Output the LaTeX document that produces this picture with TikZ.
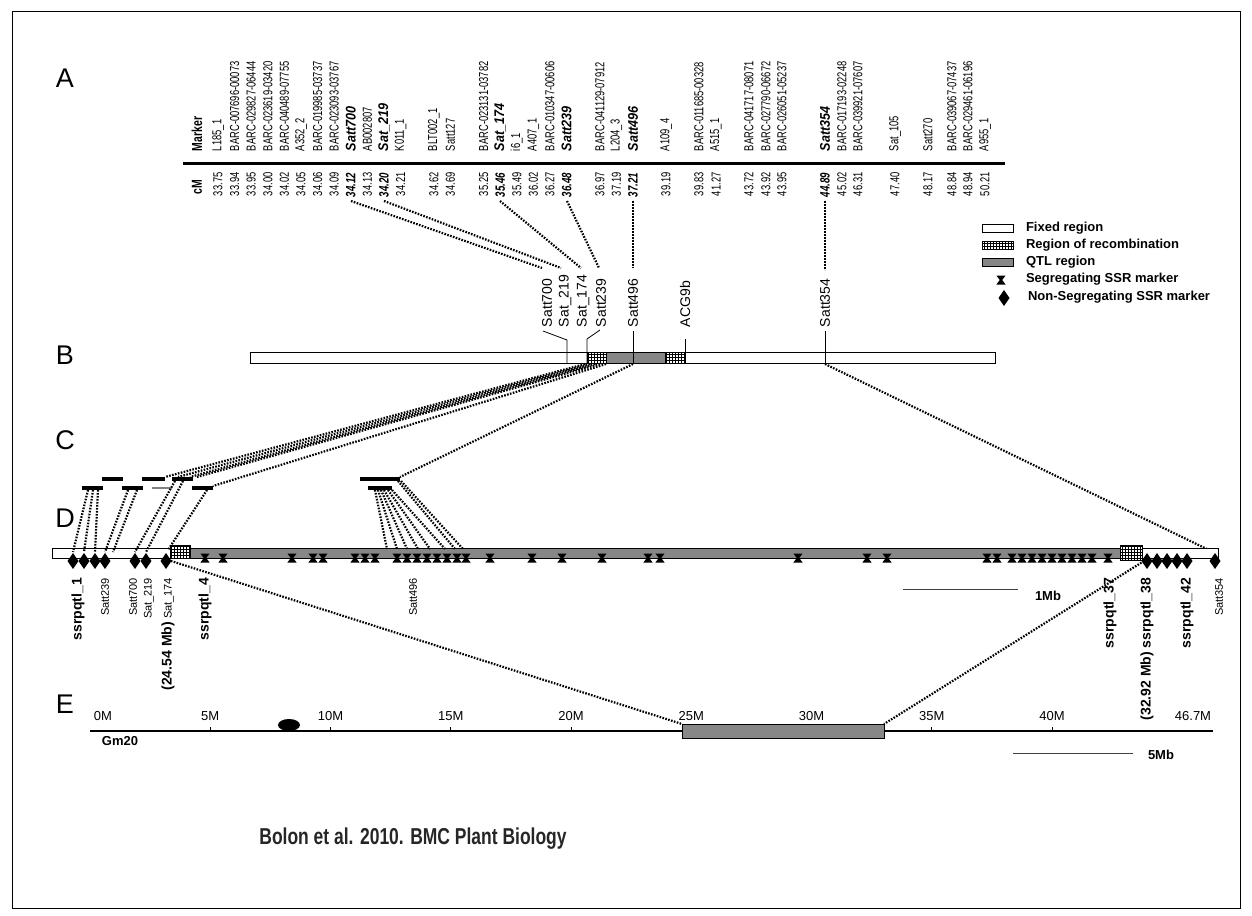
\documentclass[tikz,border=0pt]{standalone}
\usepackage{fontspec}
\setmainfont{Liberation Sans}
\newfontfamily\cnd[FakeStretch=0.72]{Liberation Sans}
\newfontfamily\cndb[FakeStretch=0.9]{Liberation Sans}
\newfontfamily\citf[FakeStretch=0.76]{Liberation Sans}
\usetikzlibrary{patterns}
\definecolor{qtl}{RGB}{135,135,135}
\tikzset{
  every node/.style={inner sep=0pt, outer sep=0pt},
  mk/.style={font=\cnd\fontsize{13}{14}\selectfont, rotate=90, anchor=west},
  mkbold/.style={font=\cndb\fontsize{14}{15}\selectfont\bfseries\itshape, rotate=90, anchor=west},
  cmv/.style={font=\cnd\fontsize{13}{14}\selectfont, rotate=90, anchor=west},
  cmbold/.style={font=\cnd\fontsize{13.5}{14}\selectfont\bfseries\itshape, rotate=90, anchor=west},
  hdr/.style={font=\cnd\fontsize{14.5}{15}\selectfont\bfseries, rotate=90, anchor=west},
  panel/.style={font=\fontsize{27}{30}\selectfont},
  blab/.style={font=\fontsize{14}{15}\selectfont, rotate=90, anchor=west},
  dlab/.style={font=\fontsize{11}{12}\selectfont, rotate=90, anchor=east},
  dlabb/.style={font=\fontsize{14}{15}\selectfont\bfseries, rotate=90, anchor=east},
  leg/.style={font=\fontsize{13}{14}\selectfont\bfseries, anchor=west},
  axl/.style={font=\fontsize{13}{14}\selectfont},
  sclab/.style={font=\fontsize{13}{14}\selectfont\bfseries, anchor=west},
  dots/.style={line width=2.2pt, dash pattern=on 1.6pt off 1.4pt},
  bar/.style={line width=0.8pt},
  cseg/.style={line width=3.5pt},
  hgl/.pic={\fill (-4.6,-4.5) -- (4.6,-4.5) -- (1.2,0) -- (4.6,4.5) -- (-4.6,4.5) -- (-1.2,0) -- cycle;},
  dmd/.pic={\fill (0,-8) -- (5.5,0) -- (0,8) -- (-5.5,0) -- cycle;},
}
\begin{document}
\begin{tikzpicture}[x=1pt,y=-1pt]
\useasboundingbox (0,0) rectangle (1252,915);
\draw[line width=1pt] (12,12) rectangle (1240,908);

% panel letters
\node[panel] (lA) at (65,78) {A};
\node[panel] (lB) at (65,355) {B};
\node[panel] (lC) at (65,440) {C};
\node[panel] (lD) at (65,518) {D};
\node[panel] (lE) at (65,704) {E};

% ---------- A: marker table ----------
\draw[line width=3pt] (183,163) -- (1005,163);
\node[hdr] (hMarker) at (197,151) {Marker};
\node[hdr] (hcM) at (197,194) {cM};
\foreach \x/\m/\c [count=\i] in {
 218/L185\_1/33.75, 234.6/BARC-007696-00073/33.94, 251.2/BARC-029827-06444/33.95,
 267.8/BARC-023619-03420/34.00, 284.4/BARC-040489-07755/34.02, 301/A352\_2/34.05,
 317.6/BARC-019985-03737/34.06, 334.2/BARC-023093-03767/34.09, 367.4/AB002807/34.13,
 400.6/K011\_1/34.21, 433.8/BLT002\_1/34.62, 450.4/Satt127/34.69,
 483.6/BARC-023131-03782/35.25, 516.8/i6\_1/35.49, 533.4/A407\_1/36.02,
 550/BARC-010347-00606/36.27, 599.8/BARC-041129-07912/36.97, 616.4/L204\_3/37.19,
 666/A109\_4/39.19, 699/BARC-011685-00328/39.83, 716/A515\_1/41.27,
 749/BARC-041717-08071/43.72, 766/BARC-027790-06672/43.92, 782/BARC-026051-05237/43.95,
 842/BARC-017193-02248/45.02, 858/BARC-039921-07607/46.31, 895/Sat\_105/47.40,
 928/Satt270/48.17, 952/BARC-039067-07437/48.84, 968/BARC-029461-06196/48.94,
 985/A955\_1/50.21}{
  \node[mk] (mk\i) at (\x,151) {\m};
  \node[cmv] (cm\i) at (\x,196) {\c};
}
\foreach \x/\m/\c [count=\i] in {
 350.8/Satt700/34.12, 384/Sat\_219/34.20, 500.2/Sat\_174/35.46,
 566.6/Satt239/36.48, 633/Satt496/37.21, 825/Satt354/44.89}{
  \node[mkbold] (mkb\i) at (\x,151) {\m};
  \node[cmbold] (cmb\i) at (\x,197) {\c};
}

% ---------- legend ----------
\draw[bar, fill=white] (982,224) rectangle (1013,232);
\node[leg] (lg1) at (1026,228) {Fixed region};
\draw[bar, pattern=grid] (982,241) rectangle (1013,249);
\node[leg] (lg2) at (1026,245) {Region of recombination};
\draw[bar, fill=qtl] (982,258) rectangle (1013,266);
\node[leg] (lg3) at (1026,262) {QTL region};
\pic at (1001,280) {hgl};
\node[leg] (lg4) at (1026,279) {Segregating SSR marker};
\pic at (1004,298) {dmd};
\node[leg] (lg5) at (1028,297) {Non-Segregating SSR marker};

% ---------- B: chromosome bar ----------
\draw[bar, fill=white] (250,352) rectangle (995,363);
\draw[bar, fill=white] (587,352) rectangle (606,363);
\draw[bar, pattern=grid] (587,352) rectangle (606,363);
\draw[bar, fill=qtl] (606,352) rectangle (665,363);
\draw[bar, fill=white] (665,352) rectangle (685,363);
\draw[bar, pattern=grid] (665,352) rectangle (685,363);

\node[blab] (bSatt700) at (547,327) {Satt700};
\node[blab] (bSat219) at (565,327) {Sat\_219};
\node[blab] (bSat174) at (583,327) {Sat\_174};
\node[blab] (bSatt239) at (601,327) {Satt239};
\node[blab] (bSatt496) at (633,327) {Satt496};
\node[blab] (bACG9b) at (685,327) {ACG9b};
\node[blab] (bSatt354) at (825,327) {Satt354};

\draw[line width=0.8pt] (543,331) -- (567,340) -- (567,363);
\draw[line width=0.8pt] (600,330) -- (587,339) -- (587,363);
\draw[line width=0.8pt] (633,331) -- (633,363);
\draw[line width=0.8pt] (685,339) -- (685,363);
\draw[line width=0.8pt] (825,331) -- (825,363);

% A -> B dotted connectors
\foreach \a/\b/\c/\d [count=\i] in {351/201/542/268, 384/201/561/268, 500/201/581/268,
  567/201/599/268, 633/201/633/268, 825/201/825/270}{
  \coordinate (ab\i) at (\a,\b); \coordinate (ae\i) at (\c,\d);
  \draw[dots] (ab\i) -- (ae\i);
}

% ---------- C: segments ----------
\draw[cseg] (102,479) -- (123,479);
\draw[cseg] (142,479) -- (165,479);
\draw[cseg] (172,479) -- (193,479);
\draw[cseg] (360,479) -- (400,479);
\draw[cseg] (82,488) -- (103,488);
\draw[cseg] (122,488) -- (143,488);
\draw[cseg] (192,488) -- (213,488);
\draw[cseg] (368,488) -- (392,488);
\draw[line width=1.5pt, black!50] (152,488) -- (172,488);

% B -> C dotted
\foreach \a/\b/\c/\d [count=\i] in {585/364/165/477, 590/364/178/477, 595/364/190/477,
  600/364/197/477, 606/364/213/486, 633/364/400/477, 825/364/1215/553}{
  \coordinate (bc\i) at (\a,\b); \coordinate (be\i) at (\c,\d);
  \draw[dots] (bc\i) -- (be\i);
}

% ---------- D: bar ----------
\draw[bar, fill=white] (52,548) rectangle (1218,558);
\draw[bar, fill=qtl] (190,548) rectangle (1120,558);
\draw[bar, fill=white] (170,545) rectangle (190,558);
\draw[bar, pattern=grid] (170,545) rectangle (190,558);
\draw[bar, fill=white] (1120,545) rectangle (1142,560);
\draw[bar, pattern=grid] (1120,545) rectangle (1142,560);

% C -> D dotted
\foreach \a/\b/\c/\d [count=\i] in {88/490/73/552, 93/490/84/552, 98/490/95/552,
  128/490/105/552, 137/490/113/552, 175/481/135/552, 183/481/146/552, 207/490/168/550,
  375/490/387/549, 378/490/397/549, 381/490/407/549, 384/490/418/549, 388/490/430/549,
  392/490/445/549, 398/481/455/549, 401/481/463/549}{
  \coordinate (cs\i) at (\a,\b); \coordinate (ce\i) at (\c,\d);
  \draw[dots] (cs\i) -- (ce\i);
}

% segregating markers
\foreach \x in {205,223,292,313,323,355,365,375,397,407,417,427,437,447,457,466,490,532,562,602,648,660,798,867,887,987,997,1012,1022,1032,1042,1052,1062,1072,1082,1092,1108}{
  \pic at (\x,558) {hgl};
}
% non-segregating markers
\foreach \x in {73,84,95,105,135,146,166,1147,1157,1167,1177,1187,1215}{
  \pic at (\x,561) {dmd};
}

% D labels
\node[dlabb] (d1) at (78,578) {ssrpqtl\_1};
\node[dlab] (d2) at (105,578) {Satt239};
\node[dlab] (d3) at (133,578) {Satt700};
\node[dlab] (d4) at (149,578) {Sat\_219};
\node[dlab] (d5) at (168,578) {{\fontsize{14}{15}\selectfont\bfseries (24.54 Mb)} Sat\_174};
\node[dlabb] (d6) at (205,578) {ssrpqtl\_4};
\node[dlab] (d7) at (413,578) {Satt496};
\node[dlabb] (d8) at (1110,578) {ssrpqtl\_37};
\node[dlabb] (d9) at (1147,578) {(32.92 Mb) ssrpqtl\_38};
\node[dlabb] (d10) at (1187,578) {ssrpqtl\_42};
\node[dlab] (d11) at (1219,578) {Satt354};

% 1 Mb scale
\coordinate (s1a) at (903,589); \coordinate (s1b) at (1018,589);
\draw[line width=1pt, black!75] (s1a) -- (s1b);
\node[sclab] (s1) at (1035,596) {1Mb};

% ---------- E: chromosome Gm20 ----------
\coordinate (ea) at (90,731); \coordinate (eb) at (1213,731);
\draw[line width=1.2pt] (ea) -- (eb);
\foreach \m in {5,10,...,40}{
  \draw[line width=0.8pt] (90+24.05*\m,731) -- ++(0,-4);
  \node[axl] (ax\m) at (90+24.05*\m,716) {\m M};
}
\node[axl] (ax0) at (103,716) {0M};
\node[axl] (ax467) at (1193,716) {46.7M};
\draw[bar, fill=qtl] (682,724) rectangle (884,738);
\coordinate (eqa) at (682,724); \coordinate (eqb) at (884,724);
\fill (289,725) ellipse [x radius=11, y radius=6];
\node[font=\fontsize{13}{14}\selectfont\bfseries] (gm) at (120,741) {Gm20};

% D -> E dotted
\coordinate (dqa) at (168,560); \coordinate (dqb) at (1144,561);
\draw[dots] (dqa) -- (eqa);
\draw[dots] (dqb) -- (eqb);

% 5 Mb scale
\coordinate (s5a) at (1013,753); \coordinate (s5b) at (1133,753);
\draw[line width=1pt, black!75] (s5a) -- (s5b);
\node[sclab] (s5) at (1148,755) {5Mb};

% citation
\node[font=\citf\fontsize{23}{26}\selectfont\bfseries, text=black!85] (cite) at (413,839) {Bolon et al. 2010. BMC Plant Biology};
\end{tikzpicture}
\end{document}
